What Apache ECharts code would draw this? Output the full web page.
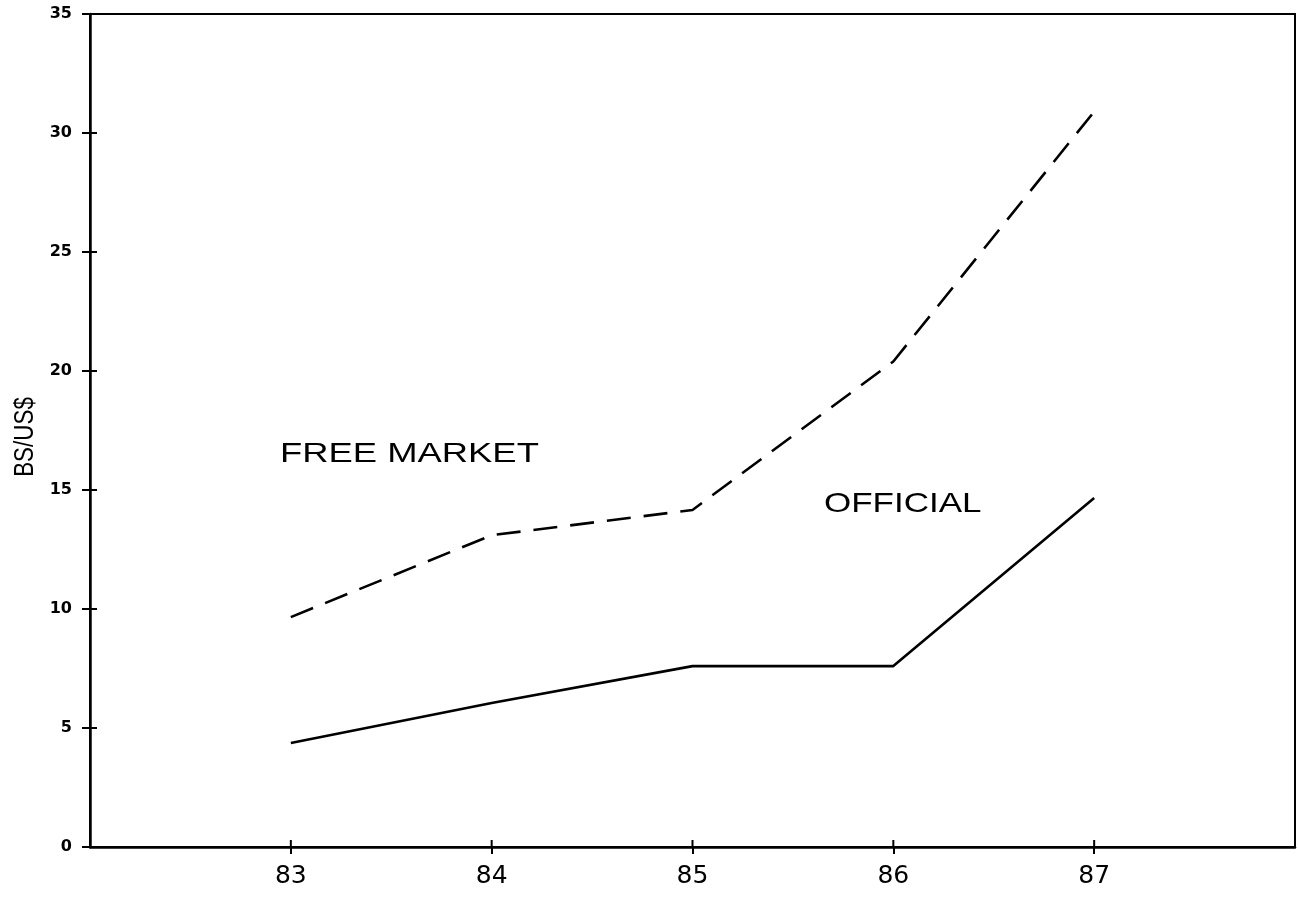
<!DOCTYPE html>
<html>
<head>
<meta charset="utf-8">
<script src="https://cdn.jsdelivr.net/npm/echarts@6/dist/echarts.min.js"></script>
<style>
  html, body { margin: 0; padding: 0; background: #fff; }
  #chart { width: 1298px; height: 897px; }
</style>
</head>
<body>
<div id="chart"></div>
<script>
// Exchange rate, bolivianos per US dollar, 1983-87
const years = [83, 84, 85, 86, 87];
const freeMarket = [9.66, 13.1, 14.16, 20.4, 30.9];
const official = [4.37, 6.05, 7.6, 7.6, 14.66];
const yTicks = [0, 5, 10, 15, 20, 25, 30, 35];
const yAxisName = 'BS/US$';
const freeLabel = 'FREE MARKET';
const officialLabel = 'OFFICIAL';

const ink = '#000';
const X_MIN = 82, X_MAX = 88, Y_MIN = 0, Y_MAX = 35;
const TICK_IN = 7;
const toPairs = (vals) => years.map((y, i) => [y, vals[i]]);

const chart = echarts.init(document.getElementById('chart'), null, { renderer: 'canvas' });

// Tick marks that cross the axis line: the axis draws the outer half,
// this custom series draws the inner half at the same scale positions.
function innerTicks(dim) {
  const values = dim === 'x' ? years : yTicks;
  return {
    type: 'custom',
    silent: true,
    z: 5,
    data: values.map(v => [v]),
    clip: false,
    renderItem: function (params, api) {
      const v = api.value(0);
      let p, q;
      if (dim === 'x') {
        p = api.coord([v, Y_MIN]);
        q = [p[0], p[1] - TICK_IN];
      } else {
        p = api.coord([X_MIN, v]);
        q = [p[0] + TICK_IN, p[1]];
      }
      return {
        type: 'line',
        shape: { x1: p[0], y1: p[1], x2: q[0], y2: q[1] },
        style: { stroke: ink, lineWidth: 2 }
      };
    }
  };
}

chart.setOption({
  animation: false,
  backgroundColor: '#fff',
  grid: {
    left: 90, right: 3, top: 14, bottom: 50,
    show: true, borderColor: ink, borderWidth: 2, backgroundColor: 'transparent'
  },
  xAxis: {
    type: 'value', min: X_MIN, max: X_MAX, interval: 1,
    splitLine: { show: false },
    axisLine: { show: true, lineStyle: { color: ink, width: 2.5 } },
    axisTick: { show: true, inside: false, length: 7, customValues: years, lineStyle: { color: ink, width: 2 } },
    axisLabel: {
      customValues: years, margin: 17, color: ink,
      fontFamily: 'DejaVu Sans', fontSize: 25
    }
  },
  yAxis: {
    type: 'value', min: Y_MIN, max: Y_MAX, interval: 5,
    splitLine: { show: false },
    axisLine: { show: true, lineStyle: { color: ink, width: 2.5 } },
    axisTick: { show: true, inside: false, length: 8, lineStyle: { color: ink, width: 2 } },
    axisLabel: {
      margin: 18, color: ink,
      fontFamily: 'DejaVu Sans', fontWeight: 'bold', fontSize: 16
    }
  },
  series: [
    {
      name: freeLabel, type: 'line',
      data: toPairs(freeMarket),
      symbol: 'none',
      lineStyle: { color: ink, width: 2.6, type: [24, 13] }
    },
    {
      name: officialLabel, type: 'line',
      data: toPairs(official),
      symbol: 'none',
      lineStyle: { color: ink, width: 2.6, type: 'solid' }
    },
    innerTicks('x'),
    innerTicks('y')
  ],
  graphic: [
    {
      type: 'text', x: 25, y: 437, rotation: Math.PI / 2, scaleX: 0.8, silent: true,
      style: {
        text: yAxisName, fill: ink,
        font: '28px "Liberation Sans", Arial, sans-serif',
        textVerticalAlign: 'middle', textAlign: 'center'
      }
    },
    {
      type: 'text', x: 280, y: 454, scaleX: 1.3, silent: true,
      style: {
        text: freeLabel, fill: ink,
        font: '28px "Liberation Sans", Arial, sans-serif',
        textVerticalAlign: 'middle', textAlign: 'left'
      }
    },
    {
      type: 'text', x: 824, y: 504, scaleX: 1.25, silent: true,
      style: {
        text: officialLabel, fill: ink,
        font: '28px "Liberation Sans", Arial, sans-serif',
        textVerticalAlign: 'middle', textAlign: 'left'
      }
    }
  ]
});
</script>
</body>
</html>
